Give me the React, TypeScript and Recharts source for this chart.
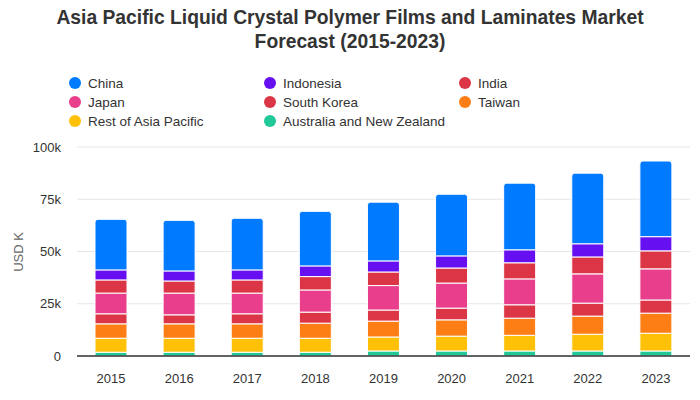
import React from 'react';
import { BarChart, Bar, XAxis, YAxis, CartesianGrid } from 'recharts';

// values in USD K
const years = ['2015', '2016', '2017', '2018', '2019', '2020', '2021', '2022', '2023'];
const china = [24200, 24200, 24700, 26100, 28100, 29500, 31900, 33800, 36200];
const indonesia = [4800, 4800, 4800, 5100, 5300, 5800, 6200, 6300, 6800];
const india = [6300, 5800, 6300, 6400, 6500, 7200, 7700, 8100, 8600];
const japan = [9900, 10400, 9900, 10600, 11700, 12000, 12400, 14000, 14900];
const southKorea = [4800, 4300, 4800, 5300, 5300, 5600, 6400, 6200, 6300];
const taiwan = [6900, 6900, 6900, 7200, 7600, 7800, 8200, 8700, 9600];
const restOfAsiaPacific = [6700, 6700, 6700, 6700, 6700, 7100, 7500, 8000, 8500];
const australiaNz = [1800, 1800, 1800, 1800, 2400, 2400, 2400, 2400, 2400];
const yTicks = [0, 25000, 50000, 75000, 100000];

// legend order (stacked bottom-up in reverse)
const seriesList = [
  { key: 'china', name: 'China', color: '#007bff', values: china },
  { key: 'indonesia', name: 'Indonesia', color: '#6610f2', values: indonesia },
  { key: 'india', name: 'India', color: '#dc3545', values: india },
  { key: 'japan', name: 'Japan', color: '#e83e8c', values: japan },
  { key: 'southKorea', name: 'South Korea', color: '#dc3545', values: southKorea },
  { key: 'taiwan', name: 'Taiwan', color: '#fd7e14', values: taiwan },
  { key: 'rest', name: 'Rest of Asia Pacific', color: '#ffc107', values: restOfAsiaPacific },
  { key: 'anz', name: 'Australia and New Zealand', color: '#20c997', values: australiaNz },
];

const data = years.map((year, i) => {
  const row: { [key: string]: string | number } = { year };
  seriesList.forEach((s) => {
    row[s.key] = s.values[i];
  });
  return row;
});

const font = '"Liberation Sans", Arial, sans-serif';
const legendCols = [75, 270, 465];

export default function App() {
  const stacked = [...seriesList].reverse();
  return (
    <div style={{ position: 'absolute', left: 0, top: 0, width: 700, height: 400, background: '#fff', fontFamily: font }}>
      <div
        style={{
          position: 'absolute',
          top: 6,
          left: 0,
          width: 700,
          textAlign: 'center',
          fontSize: 19.3,
          fontWeight: 'bold',
          lineHeight: '24px',
          color: '#333',
        }}
      >
        Asia Pacific Liquid Crystal Polymer Films and Laminates Market
        <br />
        Forecast (2015-2023)
      </div>

      {seriesList.map((s, i) => (
        <div
          key={s.key}
          style={{
            position: 'absolute',
            left: legendCols[i % 3] - 6,
            top: 83 + Math.floor(i / 3) * 19 - 8,
            height: 16,
            display: 'flex',
            alignItems: 'center',
            fontSize: 13.5,
            color: '#333',
            whiteSpace: 'nowrap',
          }}
        >
          <span style={{ width: 12, height: 12, borderRadius: 6, background: s.color, marginRight: 7 }} />
          {s.name}
        </div>
      ))}

      <div
        style={{
          position: 'absolute',
          left: 18,
          top: 252,
          transform: 'translate(-50%, -50%) rotate(-90deg)',
          fontSize: 13,
          color: '#666',
          whiteSpace: 'nowrap',
        }}
      >
        USD K
      </div>

      <BarChart
        width={700}
        height={400}
        data={data}
        margin={{ top: 147, right: 10, left: 0, bottom: 14 }}
        barSize={32}
        style={{ position: 'absolute', left: 0, top: 0 }}
      >
        <CartesianGrid vertical={false} stroke="#e6e6e6" />
        <XAxis
          dataKey="year"
          height={30}
          tickLine={false}
          tickMargin={12}
          axisLine={{ stroke: '#333', strokeWidth: 1.5 }}
          tick={{ fill: '#333', fontSize: 13, fontFamily: font }}
        />
        <YAxis
          width={77}
          domain={[0, 100000]}
          ticks={yTicks}
          axisLine={false}
          tickLine={false}
          tickMargin={10}
          tickFormatter={(v: number) => (v === 0 ? '0' : `${v / 1000}k`)}
          tick={{ fill: '#333', fontSize: 13, fontFamily: font }}
        />
        {stacked.map((s, i) => (
          <Bar
            key={s.key}
            dataKey={s.key}
            name={s.name}
            stackId="a"
            fill={s.color}
            stroke="#fff"
            strokeWidth={1}
            radius={i === stacked.length - 1 ? [3, 3, 0, 0] : 0}
            isAnimationActive={false}
          />
        ))}
      </BarChart>
    </div>
  );
}
